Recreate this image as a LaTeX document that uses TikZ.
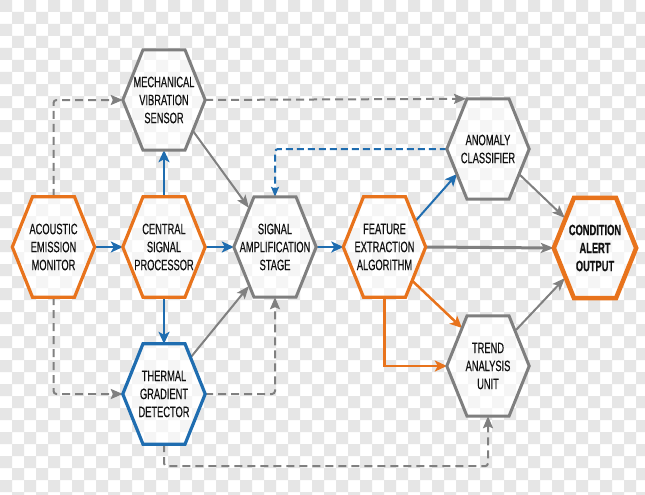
\documentclass[tikz,border=0pt]{standalone}
\usepackage{fontspec}
\setmainfont{Liberation Sans}[FakeStretch=0.62,FakeBold=0.4]
\usetikzlibrary{arrows.meta,calc}
\definecolor{hexorange}{HTML}{E8731C}
\definecolor{hexblue}{HTML}{1F6DB0}
\definecolor{hexgray}{HTML}{7F7F7F}
\definecolor{arrgray}{HTML}{808080}
\definecolor{checkgray}{HTML}{E6E6E6}
\definecolor{txt}{HTML}{111111}
\pgfdeclarelayer{bg}
\pgfsetlayers{bg,main}
\begin{document}
\begin{tikzpicture}[x=1pt,y=-1pt,
  hexnode/.style={minimum width=82pt,minimum height=100pt,inner sep=0pt,align=center,
    font=\fontsize{15}{18}\selectfont,text=txt,execute at begin node={\rule{0pt}{17pt}}},
  bluearr/.style={draw=hexblue,line width=2.5pt,-{Stealth[length=12pt,width=11pt,inset=3pt]}},
  grayarr/.style={draw=arrgray,line width=2pt,-{Stealth[length=13pt,width=10pt,inset=3pt]}},
  orangearr/.style={draw=hexorange,line width=2.5pt,-{Stealth[length=12pt,width=11pt,inset=3pt]}},
  graydash/.style={draw=arrgray,line width=2pt,dash pattern=on 8pt off 5pt,rounded corners=3pt,
    -{Stealth[length=12pt,width=10pt,inset=2pt]}},
  bluedash/.style={draw=hexblue,line width=2pt,dash pattern=on 7pt off 4pt,rounded corners=3pt,
    -{Stealth[length=10pt,width=8pt,inset=2pt]}}]
\useasboundingbox (0,0) rectangle (645,495);
\begin{pgfonlayer}{bg}
  \fill[white] (0,0) rectangle (645,495);
  \fill[checkgray] \foreach \i in {0,...,53} {\foreach \j in {0,2,...,40} {({\i*12},{(\j+mod(\i,2))*12}) rectangle ++(12,12)}};
\end{pgfonlayer}

\node[hexnode] (aem) at (53.5,247) {ACOUSTIC\\EMISSION\\MONITOR};
\node[hexnode] (csp) at (164,247) {CENTRAL\\SIGNAL\\PROCESSOR};
\node[hexnode] (ms)  at (164,100) {MECHANICAL\\VIBRATION\\SENSOR};
\node[hexnode] (tgd) at (164,394) {THERMAL\\GRADIENT\\DETECTOR};
\node[hexnode] (sas) at (275,247) {SIGNAL\\AMPLIFICATION\\STAGE};
\node[hexnode] (fea) at (384.5,247) {FEATURE\\EXTRACTION\\ALGORITHM};
\node[hexnode] (ac)  at (488,149) {ANOMALY\\CLASSIFIER};
\node[hexnode] (tau) at (488,366) {TREND\\ANALYSIS\\UNIT};
\node[hexnode,font=\fontsize{15}{18}\selectfont\bfseries] (cao) at (595,248) {CONDITION\\ALERT\\OUTPUT};

\begin{pgfonlayer}{bg}
  \foreach \n in {aem,csp,ms,tgd,sas,fea,ac,tau,cao}
    \fill[white,opacity=0.6] (\n.west) -- ([xshift=-21pt]\n.north) -- ([xshift=21pt]\n.north) -- (\n.east)
      -- ([xshift=21pt]\n.south) -- ([xshift=-21pt]\n.south) -- cycle;
\end{pgfonlayer}

% solid connectors
\draw[bluearr] (aem.east) -- (csp.west);
\draw[bluearr] (csp.north) -- (ms.south);
\draw[bluearr] (csp.south) -- (tgd.north);
\draw[bluearr] (csp.east) -- (sas.west);
\draw[bluearr] (sas.east) -- (fea.west);
\draw[bluearr,line width=2pt] ($(fea.center)+(31,-26)$) -- ($(ac.center)+(-31,25)$);
\draw[grayarr,line width=3pt] (fea.east) -- (cao.west);
\draw[grayarr] ($(ac.center)+(31,25)$) -- ($(cao.center)+(-30,-30)$);
\draw[grayarr] ($(tau.center)+(28,-36)$) -- ($(cao.center)+(-30,30)$);
\draw[orangearr] ($(fea.center)+(28,34)$) -- ($(tau.center)+(-26,-38)$);
\draw[orangearr] (fea.south) |- (tau.west);
\draw[grayarr] ($(ms.center)+(29,31)$) -- ($(sas.center)+(-26,-39)$);
\draw[grayarr] ($(tgd.center)+(27,-37)$) -- ($(sas.center)+(-26,39)$);

% dashed connectors
\draw[bluedash] (ac.west) -| (sas.north);
\draw[graydash] (tgd.east) -| (sas.south);
\draw[graydash] (ms.east) -- ([xshift=-22pt]ac.north);
\draw[graydash] (aem.north) |- (ms.west);
\draw[graydash] (aem.south) |- (tgd.west);
\draw[graydash] (tgd.south) -- ++(0,22) -| (tau.south);

% hexagon outlines
\foreach \n/\c/\w in {aem/hexorange/3.2,csp/hexorange/3.2,ms/hexgray/3,tgd/hexblue/3.2,
    sas/hexgray/3,fea/hexorange/3.2,ac/hexgray/3,tau/hexgray/3,cao/hexorange/4.5}
  \draw[\c,line width=\w pt,line join=miter] (\n.west) -- ([xshift=-21pt]\n.north) -- ([xshift=21pt]\n.north)
    -- (\n.east) -- ([xshift=21pt]\n.south) -- ([xshift=-21pt]\n.south) -- cycle;
\end{tikzpicture}
\end{document}
